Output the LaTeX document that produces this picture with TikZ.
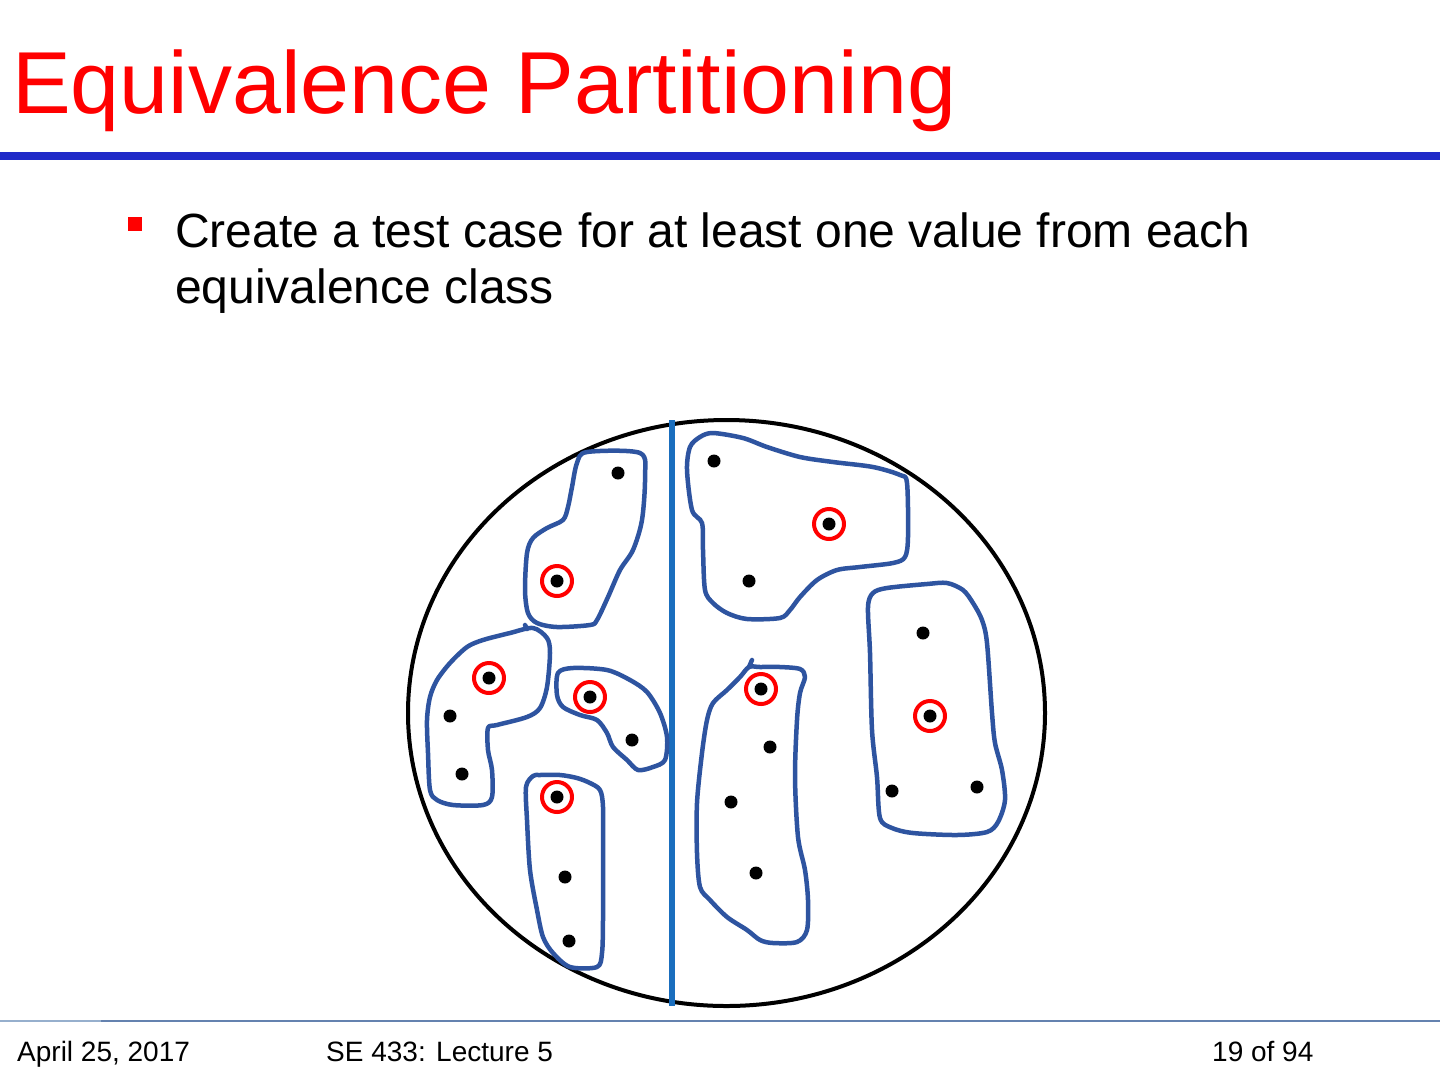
\documentclass[tikz,border=0pt]{standalone}
\usepackage{fontspec}
\setmainfont{Liberation Sans}
\definecolor{rulecol}{RGB}{32,42,200}
\definecolor{blobcol}{RGB}{46,84,160}
\definecolor{splitcol}{RGB}{26,110,190}
\definecolor{footcol}{RGB}{100,130,175}
\definecolor{footlight}{RGB}{150,175,205}
\begin{document}
\begin{tikzpicture}[x=1pt, y=-1pt, line join=round, line cap=round,
	blob/.style={draw=blobcol, line width=4.5pt},
	dot/.style={fill=black},
	ring/.style={draw=red, line width=4pt},
	foot/.style={anchor=base west, inner sep=0pt, font=\fontsize{28}{32}\selectfont}]
	\useasboundingbox[fill=white] (0,0) rectangle (1440,1080);
	
	% Tiêu đề và đường kẻ
	\node[anchor=base west, inner sep=0pt, text=red, font=\fontsize{88}{100}\selectfont] (title) at (12,113) {Equivalence Partitioning};
	\fill[rulecol] (0,152) rectangle (1440,160);
	
	% Gạch đầu dòng
	\fill[red] (128,217) rectangle (142,231);
	\node[anchor=base west, inner sep=0pt, font=\fontsize{48}{56}\selectfont] (line1) at (175,247) {Create a test case for at least one value from each};
	\node[anchor=base west, inner sep=0pt, font=\fontsize{48}{56}\selectfont] (line2) at (175,303) {equivalence class};
	
	% Hình tròn và đường chia
	\draw[line width=4pt] (726.5,713) ellipse [x radius=318.5, y radius=293];
	\draw[splitcol, line width=6pt, line cap=butt] (672,420) -- (672,1006);
	
	% Các lớp tương đương
	\draw[blob] plot[smooth cycle, tension=0.5] coordinates {(587,452) (640,453) (645,477) (642,520) (633,550) (620,570) (608,597) (597,620) (590,625) (557,627) (537,623) (528,613) (525,590) (527,553) (533,538) (547,528) (563,520) (568,507) (572,487) (577,463)};
	\draw[blob] plot[smooth cycle, tension=0.5] coordinates {(713,433) (700,437) (690,447) (687,470) (692,510) (702,523) (703,550) (705,590) (713,603) (727,613) (747,619) (780,618) (790,610) (800,597) (817,580) (837,570) (860,567) (893,563) (905,557) (908,537) (907,483) (900,475) (873,467) (833,462) (800,457) (767,447) (743,438)};
	\draw[blob] plot[smooth cycle, tension=0.5] coordinates {(873,593) (868,607) (870,653) (872,730) (877,777) (880,818) (892,828) (913,833) (957,835) (987,832) (998,822) (1005,800) (1002,770) (995,743) (992,713) (987,643) (982,620) (973,603) (963,590) (947,583) (927,584) (887,588)};
	\draw[blob] plot[smooth cycle, tension=0.5] coordinates {(749,667) (740,677) (727,690) (713,703) (707,720) (702,753) (697,803) (697,853) (700,887) (710,900) (727,917) (747,930) (760,940) (773,943) (797,942) (807,930) (808,900) (805,870) (798,837) (795,777) (797,720) (800,693) (805,677) (800,669) (780,667) (760,667)};
	\draw[blob] (749,667) -- (752,660);
	\draw[blob] plot[smooth cycle, tension=0.5] coordinates {(533,628) (510,633) (483,640) (467,647) (450,663) (437,680) (430,697) (427,720) (428,753) (430,790) (437,800) (453,805) (483,805) (492,797) (492,770) (488,750) (488,728) (497,725) (527,717) (540,708) (547,687) (550,653) (547,638)};
	\draw[blob] (527,629) -- (525,625);
	\draw[blob] plot[smooth cycle, tension=0.5] coordinates {(558,673) (557,695) (563,707) (580,715) (597,720) (607,733) (613,747) (627,760) (638,770) (653,767) (665,760) (667,737) (660,713) (647,692) (630,680) (607,670) (573,668)};
	\draw[blob] plot[smooth cycle, tension=0.5] coordinates {(533,776) (526,787) (527,820) (530,870) (537,910) (543,937) (553,953) (570,967) (597,967) (602,953) (603,920) (603,853) (603,807) (600,790) (590,783) (577,778) (560,775) (540,775)};
	
	% Các điểm giá trị
	\foreach \p in {(618,473),(557,581),(714,461),(829,524),(749,581),(923,633),(930,716),(977,787),(892,791),(761,689),(770,747),(731,802),(756,873),(489,678),(450,716),(462,774),(590,697),(632,740),(557,797),(565,877),(569,941)}
		\fill[dot] \p circle (6.5);
	
	% Đánh dấu giá trị được chọn
	\foreach \p in {(557,581),(829,524),(930,716),(761,689),(489,678),(590,697),(557,797)}
		\draw[ring] \p circle (15);
	
	% Chân trang
	\draw[footlight, line width=2pt, line cap=butt] (0,1021) -- (101,1021);
	\draw[footcol, line width=2pt, line cap=butt] (101,1021) -- (1440,1021);
	\node[foot] (date) at (17,1061) {April 25, 2017};
	\node[foot] (course) at (326,1061) {SE 433: Lecture 5};
	\node[foot] (page) at (1212,1061) {19 of 94};
\end{tikzpicture}
\end{document}
